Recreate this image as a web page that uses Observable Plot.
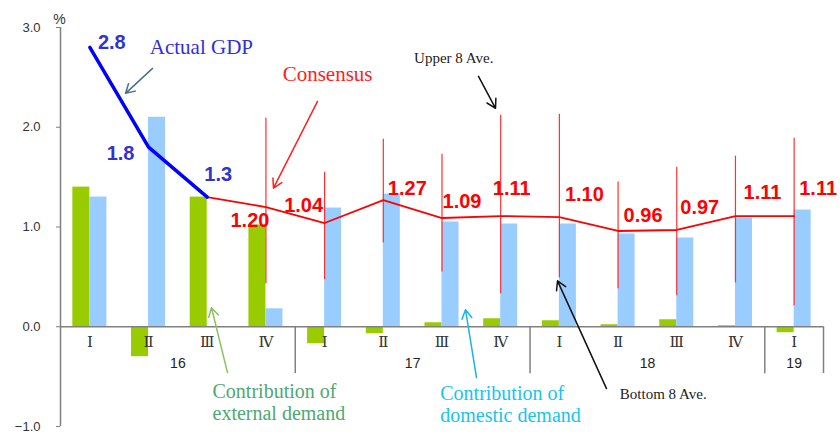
<!DOCTYPE html>
<html><head><meta charset="utf-8">
<script src="https://cdn.jsdelivr.net/npm/d3@7"></script>
<script src="https://cdn.jsdelivr.net/npm/@observablehq/plot@0.6"></script>
<style>html,body{margin:0;padding:0;background:#fff;}</style>
</head><body><div id="chart"></div>
<script>
// ---- data ----
const years    = ["16","16","16","16","17","17","17","17","18","18","18","18","19"];
const quarters = ["Ⅰ","Ⅱ","Ⅲ","Ⅳ","Ⅰ","Ⅱ","Ⅲ","Ⅳ","Ⅰ","Ⅱ","Ⅲ","Ⅳ","Ⅰ"];
const external = [1.40,-0.30,1.30,1.02,-0.17,-0.07,0.04,0.08,0.06,0.02,0.07,0.01,-0.06];
const domestic = [1.30,2.10,0.00,0.18,1.19,1.33,1.05,1.03,1.03,0.93,0.89,1.09,1.17];
const actualGDP = [2.8,1.8,1.3];                                   // 16 Ⅰ–Ⅲ
const consensus = [1.20,1.04,1.27,1.09,1.11,1.10,0.96,0.97,1.11,1.11]; // 16 Ⅳ – 19 Ⅰ
const upper8    = [2.09,1.55,1.88,1.73,2.12,2.13,1.45,1.60,1.71,1.89];
const bottom8   = [0.43,0.47,0.84,0.55,0.33,0.49,0.38,0.31,0.44,0.21];
const yTicks = [-1,0,1,2,3];

// ---- derived tables ----
const cats = quarters.map((q,i)=>({i,q,year:years[i],ext:external[i],dom:domestic[i]}));
const actualData = actualGDP.map((v,i)=>({i,v}));
const c0 = actualGDP.length;
const consData = consensus.map((v,k)=>({i:c0+k,v,hi:upper8[k],lo:bottom8[k]}));
const consLine = [actualData[actualData.length-1], ...consData];
const yearGroups = d3.groups(cats,d=>d.year).map(([year,arr])=>({year,x:d3.mean(arr,d=>d.i),end:d3.max(arr,d=>d.i)+0.5}));

const barW = 0.29;
const actualOffsets = [[22,-5],[-28,6],[11,-22]];
const consOffsets = [[-16,14],[-21,-17],[24,-11],[20,-16],[11,-27],[25,-22],[25,-15],[23,-22],[27,-23],[24,-27]];

const serif = "Liberation Serif, Times New Roman, serif";

const marks = [
  Plot.axisY(yTicks,{tickSize:4,tickPadding:16,tickFormat:d3.format(".1f"),fontSize:13,stroke:"#808080",color:"#333",label:null}),
  Plot.rect(cats,{x1:d=>d.i-barW,x2:d=>d.i,y1:0,y2:"ext",fill:"#99cc00"}),
  Plot.rect(cats,{x1:d=>d.i,x2:d=>d.i+barW,y1:0,y2:"dom",fill:"#99ccff"}),
  Plot.ruleX([-0.5],{y1:-1,y2:3,stroke:"#808080",strokeWidth:1.5}),
  Plot.ruleY([0],{x1:-0.5,x2:cats.length-0.5,stroke:"#808080",strokeWidth:1.5}),
  Plot.ruleX(yearGroups,{x:"end",y1:0,y2:-0.47,stroke:"#808080",strokeWidth:1.5}),
  Plot.text(cats,{x:"i",y:-0.15,text:"q",fontFamily:"DejaVu Serif, Noto Sans CJK JP, serif",fontSize:15,fill:"#333"}),
  Plot.text(yearGroups,{x:"x",y:-0.37,text:"year",fontSize:14,fill:"#222"}),
  Plot.ruleX(consData,{x:"i",y1:"lo",y2:"hi",stroke:"#ff3030",strokeWidth:1.2}),
  Plot.line(consLine,{x:"i",y:"v",stroke:"#ff0000",strokeWidth:1.8}),
  Plot.line(actualData,{x:"i",y:"v",stroke:"#0000ff",strokeWidth:3.5}),
  ...actualData.map((d,k)=>Plot.text([d],{x:"i",y:"v",text:e=>d3.format(".1f")(e.v),dx:actualOffsets[k][0],dy:actualOffsets[k][1],fontSize:20,fontWeight:"bold",fill:"#3333cc"})),
  ...consData.map((d,k)=>Plot.text([d],{x:"i",y:"v",text:e=>d3.format(".2f")(e.v),dx:consOffsets[k][0],dy:consOffsets[k][1],fontSize:20,fontWeight:"bold",fill:"#ff0000"})),
  // annotations
  Plot.text(["%"],{x:-0.5,y:3.08,dx:-1,fontSize:14,fill:"#333"}),
  Plot.text(["Actual GDP"],{x:1.90,y:2.80,fontFamily:serif,fontSize:21,fill:"#2f2fe0"}),
  Plot.arrow([{}],{x1:1.068,y1:2.59,x2:0.608,y2:2.34,stroke:"#4a6f8f",strokeWidth:1.5,headLength:10}),
  Plot.text(["Consensus"],{x:4.05,y:2.53,fontFamily:serif,fontSize:21,fill:"#ff2020"}),
  Plot.arrow([{}],{x1:3.879,y1:2.26,x2:3.129,y2:1.39,stroke:"#ff2020",strokeWidth:1.5,headLength:10}),
  Plot.text(["Upper 8 Ave."],{x:6.20,y:2.69,fontFamily:serif,fontSize:15,fill:"#222"}),
  Plot.arrow([{}],{x1:6.622,y1:2.51,x2:6.912,y2:2.19,stroke:"#111",strokeWidth:1.5,headLength:10}),
  Plot.text(["Bottom 8 Ave."],{x:9.77,y:-0.68,fontFamily:serif,fontSize:15,fill:"#222"}),
  Plot.arrow([{}],{x1:8.803,y1:-0.62,x2:7.968,y2:0.46,stroke:"#111",strokeWidth:1.5,headLength:10}),
  Plot.text(["Contribution of\nexternal demand"],{x:2.09,y:-0.75,textAnchor:"start",lineHeight:1.1,fontFamily:serif,fontSize:20,fill:"#4ea86f"}),
  Plot.arrow([{}],{x1:2.345,y1:-0.46,x2:2.073,y2:0.19,stroke:"#8cc063",strokeWidth:1.5,headLength:10}),
  Plot.text(["Contribution of\ndomestic demand"],{x:5.97,y:-0.775,textAnchor:"start",lineHeight:1.1,fontFamily:serif,fontSize:20,fill:"#16c4f2"}),
  Plot.arrow([{}],{x1:6.588,y1:-0.51,x2:6.401,y2:0.17,stroke:"#1ab4ea",strokeWidth:1.5,headLength:10})
];

const chart = Plot.plot({
  width:840,height:435,
  marginLeft:60,marginRight:17,marginTop:27,marginBottom:9,
  x:{domain:[-0.5,cats.length-0.5],axis:null},
  y:{domain:[-1,3]},
  style:{fontFamily:"Liberation Sans, Arial, sans-serif",fontSize:"13px",color:"#333",background:"white",overflow:"visible"},
  marks
});
document.getElementById("chart").appendChild(chart);
</script>
</body></html>
